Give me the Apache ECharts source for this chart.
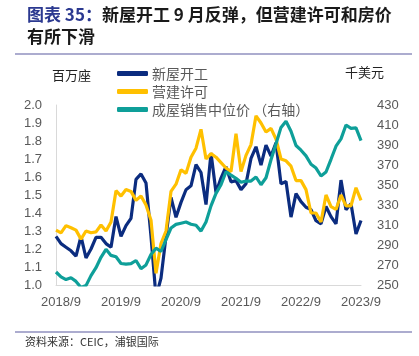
<!DOCTYPE html>
<html><head><meta charset="utf-8">
<script src="https://cdn.jsdelivr.net/npm/echarts@6/dist/echarts.min.js"></script>
<style>html,body{margin:0;padding:0;background:#fff}#c{width:419px;height:356px}</style>
</head><body><div id="c"></div>
<script>
const categories = [
 '2018/8','2018/9','2018/10','2018/11','2018/12',
 '2019/1','2019/2','2019/3','2019/4','2019/5','2019/6','2019/7','2019/8','2019/9','2019/10','2019/11','2019/12',
 '2020/1','2020/2','2020/3','2020/4','2020/5','2020/6','2020/7','2020/8','2020/9','2020/10','2020/11','2020/12',
 '2021/1','2021/2','2021/3','2021/4','2021/5','2021/6','2021/7','2021/8','2021/9','2021/10','2021/11','2021/12',
 '2022/1','2022/2','2022/3','2022/4','2022/5','2022/6','2022/7','2022/8','2022/9','2022/10','2022/11','2022/12',
 '2023/1','2023/2','2023/3','2023/4','2023/5','2023/6','2023/7','2023/8','2023/9'];
const shownTicks = ['2018/9','2019/9','2020/9','2021/9','2022/9','2023/9'];
// 新屋开工 (百万座)
const housingStarts = [
 1.27,1.23,1.21,1.19,1.16,
 1.27,1.15,1.20,1.265,1.265,1.23,1.21,1.38,1.27,1.33,1.37,1.587,
 1.617,1.567,1.27,0.934,1.038,1.27,1.487,1.376,1.459,1.529,1.551,1.669,
 1.625,1.447,1.733,1.514,1.594,1.657,1.573,1.58,1.53,1.563,1.703,1.768,
 1.666,1.777,1.716,1.79,1.562,1.575,1.377,1.508,1.463,1.432,1.419,1.357,
 1.34,1.436,1.38,1.34,1.583,1.418,1.451,1.283,1.358];
// 营建许可 (百万座)
const buildingPermits = [
 1.305,1.29,1.33,1.318,1.305,
 1.255,1.30,1.29,1.295,1.333,1.30,1.35,1.524,1.494,1.53,1.52,1.47,
 1.494,1.444,1.36,1.065,1.23,1.30,1.52,1.56,1.64,1.62,1.71,1.76,
 1.865,1.70,1.73,1.71,1.68,1.65,1.63,1.84,1.63,1.72,1.78,1.94,
 1.90,1.85,1.87,1.81,1.70,1.69,1.66,1.58,1.58,1.53,1.40,1.40,
 1.35,1.50,1.435,1.42,1.50,1.44,1.44,1.54,1.47];
// 成屋销售中位价 (千美元, 右轴)
const medianPrice = [
 263,258.1,255.4,257.2,253.6,
 247.5,249.4,259.4,267.3,277.7,285.7,279.6,278.2,271.5,270.9,271.3,274.5,
 266.3,270.1,280.6,286.8,283.5,295.3,307.0,310.6,311.8,313.0,310.8,309.8,
 303.9,313.0,329.1,341.6,350.3,363.3,359.9,356.7,352.8,353.9,353.9,358.0,
 350.3,357.3,375.3,391.2,407.6,413.8,403.8,389.5,384.8,379.1,370.7,366.9,
 359.0,363.0,375.7,388.8,396.1,410.0,406.7,407.1,394.3];
const seriesNames = ['新屋开工','营建许可','成屋销售中位价 （右轴）'];
const colors = ['#0b2c7f','#ffc000','#0e9f99'];

const chart = echarts.init(document.getElementById('c'), null, {renderer:'canvas'});
const numFont = 'Liberation Sans, Arial, sans-serif';
const cjkFont = 'Noto Sans CJK SC, sans-serif';
chart.setOption({
  animation:false,
  backgroundColor:'#fff',
  graphic:[
    {type:'text', left:27, top:4, style:{
      text:'{a|图表 35：}{b|新屋开工 9 月反弹，但营建许可和房价}\n{b|有所下滑}',
      lineHeight:22,
      rich:{
        a:{fill:'#2b3990', font:'bold 17px "Noto Sans CJK SC"', lineHeight:22},
        b:{fill:'#1a1a1a', font:'bold 17px "Noto Sans CJK SC"', lineHeight:22}
      }}},
    {type:'line', shape:{x1:15,y1:54,x2:412,y2:54}, style:{stroke:'#5b5aa0', lineWidth:1.2}},
    {type:'line', shape:{x1:15,y1:332,x2:412,y2:332}, style:{stroke:'#5b5aa0', lineWidth:1.2}},
    {type:'text', left:25, top:336, style:{text:'资料来源：CEIC，浦银国际', fill:'#333', font:'11px "Noto Sans CJK SC"'}},
    {type:'text', left:52, top:69, style:{text:'百万座', fill:'#222', font:'13px "Noto Sans CJK SC"'}},
    {type:'text', left:345, top:66, style:{text:'千美元', fill:'#222', font:'13px "Noto Sans CJK SC"'}}
  ],
  legend:{
    orient:'vertical', left:112, top:61,
    itemWidth:31, itemHeight:5, itemGap:3, icon:'roundRect',
    textStyle:{color:'#595959', fontSize:14, fontFamily:cjkFont, lineHeight:15, padding:[0,0,0,-1]},
    data:seriesNames
  },
  grid:{left:56, right:58, top:105, bottom:71, containLabel:false},
  xAxis:{
    type:'category', data:categories, boundaryGap:false,
    axisLine:{lineStyle:{color:'#d9d9d9', width:1}},
    axisTick:{show:false},
    axisLabel:{interval:0, color:'#595959', fontSize:13, fontFamily:numFont, margin:11,
      formatter:v => shownTicks.includes(v) ? v : ''},
    splitLine:{show:false}
  },
  yAxis:[
    {type:'value', min:1.0, max:2.0, interval:0.1, position:'left',
     axisLine:{show:true, lineStyle:{color:'#d9d9d9'}}, axisTick:{show:false}, splitLine:{show:false},
     axisLabel:{color:'#595959', fontSize:13, fontFamily:numFont, margin:14, formatter:v=>v.toFixed(1)}},
    {type:'value', min:250, max:430, interval:20, position:'right',
     axisLine:{show:false}, axisTick:{show:false}, splitLine:{show:false},
     axisLabel:{color:'#595959', fontSize:13, fontFamily:numFont, margin:16}}
  ],
  series:[
    {name:seriesNames[0], type:'line', data:housingStarts, yAxisIndex:0, symbol:'none', clip:true,
     lineStyle:{color:colors[0], width:3.2}, itemStyle:{color:colors[0]}},
    {name:seriesNames[1], type:'line', data:buildingPermits, yAxisIndex:0, symbol:'none', clip:true,
     lineStyle:{color:colors[1], width:3.2}, itemStyle:{color:colors[1]}},
    {name:seriesNames[2], type:'line', data:medianPrice, yAxisIndex:1, symbol:'none', clip:true,
     lineStyle:{color:colors[2], width:3.2}, itemStyle:{color:colors[2]}}
  ]
});
</script></body></html>
